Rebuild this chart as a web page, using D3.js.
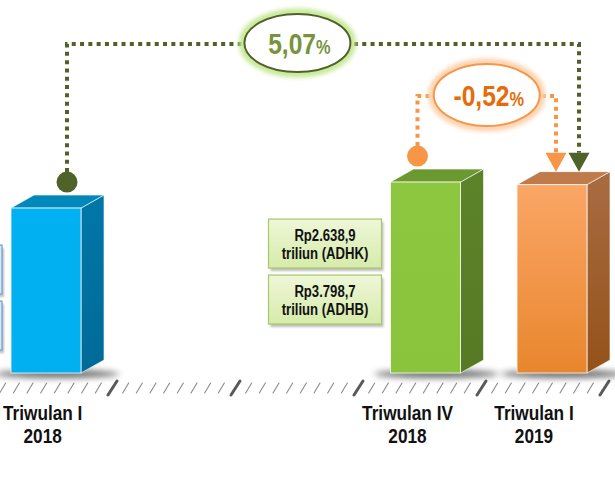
<!DOCTYPE html>
<html>
<head>
<meta charset="utf-8">
<script src="https://cdn.jsdelivr.net/npm/d3@7"></script>
<style>
  html, body { margin: 0; padding: 0; background: #ffffff; }
  svg { display: block; }
  .nar { font-family: "Liberation Sans", Arial, "DejaVu Sans", sans-serif; font-weight: bold; }
</style>
</head>
<body>
<svg id="chart" width="615" height="478"></svg>
<script>
// ---------------- data ----------------
const categories   = ["Triwulan I 2018", "Triwulan IV 2018", "Triwulan I 2019"];
const labelLine1   = ["Triwulan I", "Triwulan IV", "Triwulan I"];
const labelLine2   = ["2018", "2018", "2019"];
const quarterIndex = [0, 3, 4];                 // quarters since Triwulan I 2018
const valuesADHK   = [2498.7, 2638.9, 2625.0];  // triliun rupiah (bar heights)
const boxLine1     = [["Rp2.498,7", "Rp3.510,4"], ["Rp2.638,9", "Rp3.798,7"], null];
const boxLine2     = [["triliun (ADHK)", "triliun (ADHB)"], ["triliun (ADHK)", "triliun (ADHB)"], null];
const growthLabels = ["5,07", "-0,52"];
const growthFrom   = [0, 1];
const growthTo     = [2, 2];

// ---------------- setup ----------------
const svg = d3.select("#chart");
const defs = svg.append("defs");
const NARROW = 0.82; // horizontal squeeze to imitate a narrow bold face

const x = d3.scaleLinear().domain([0, 4]).range([11, 517]);       // front-left x of a bar
const y = d3.scaleLinear().domain([1609, 2650]).range([373, 180]); // bar top
const baseY = 373, barW = 70, dx = 23, dy = 13;

const palette = [
  { front: ["#00b0f0", "#00b0f0"], side: ["#0077a8", "#006a98"], top: "#0088ba", box: "#dce8f8", boxStroke: "#6a9ad8" },
  { front: ["#8dc63f", "#8ac43c"], side: ["#5d832a", "#567a24"], top: "#6b982f", box: "#e6f3c8", boxStroke: "#a8c866" },
  { front: ["#fba666", "#e8862d"], side: ["#a96c42", "#94521a"], top: "#c07b4b", box: "#fde4cc", boxStroke: "#f0a060" }
];

palette.forEach((p, i) => {
  const gf = defs.append("linearGradient").attr("id", "front" + i).attr("x1", 0).attr("y1", 0).attr("x2", 0).attr("y2", 1);
  gf.append("stop").attr("offset", "0%").attr("stop-color", p.front[0]);
  gf.append("stop").attr("offset", "100%").attr("stop-color", p.front[1]);
  const gs = defs.append("linearGradient").attr("id", "side" + i).attr("x1", 0).attr("y1", 0).attr("x2", 0).attr("y2", 1);
  gs.append("stop").attr("offset", "0%").attr("stop-color", p.side[0]);
  gs.append("stop").attr("offset", "100%").attr("stop-color", p.side[1]);
});
const gb = defs.append("linearGradient").attr("id", "boxGreen").attr("x1", 0).attr("y1", 0).attr("x2", 0).attr("y2", 1);
gb.append("stop").attr("offset", "0%").attr("stop-color", "#eef7d8");
gb.append("stop").attr("offset", "100%").attr("stop-color", "#d6ebaa");

defs.append("filter").attr("id", "blur3").attr("x", "-50%").attr("y", "-200%").attr("width", "200%").attr("height", "500%")
  .append("feGaussianBlur").attr("stdDeviation", 3);
defs.append("filter").attr("id", "blur2").attr("x", "-30%").attr("y", "-30%").attr("width", "160%").attr("height", "160%")
  .append("feGaussianBlur").attr("stdDeviation", 2);
defs.append("filter").attr("id", "blur1").attr("x", "-30%").attr("y", "-30%").attr("width", "160%").attr("height", "160%")
  .append("feGaussianBlur").attr("stdDeviation", 1.2);

// narrow text helper: text centred at (cx, by), squeezed horizontally
function narrowText(parent, cx, by, size, fill, str) {
  const g = parent.append("g").attr("transform", `translate(${cx},${by}) scale(${NARROW},1)`);
  const t = g.append("text").attr("class", "nar").attr("x", 0).attr("y", 0)
    .attr("text-anchor", "middle").attr("font-size", size).attr("fill", fill);
  if (str !== undefined) t.text(str);
  return t;
}

// ---------------- timeline ticks ----------------
const tickStep = 123 / 9;
const tickIdx = d3.range(-9, 37);
const tl = svg.append("g");
tickIdx.forEach(i => {
  const tx = 112 + i * tickStep;
  const big = i % 9 === 0;
  tl.append("line")
    .attr("x1", big ? tx - 4 : tx - 3).attr("y1", big ? 395 : 393)
    .attr("x2", big ? tx + 5 : tx + 3).attr("y2", big ? 381 : 383)
    .attr("stroke", big ? "#5a5a5a" : "#8a8a8a")
    .attr("stroke-width", big ? 3 : 1.1)
    .attr("stroke-linecap", "round");
});

// ---------------- value boxes ----------------
categories.forEach((c, i) => {
  if (!boxLine1[i]) return;
  const bx = x(quarterIndex[i]) - 9 - 113;
  const top = y(valuesADHK[i]) + 37;
  [0, 1].forEach(k => {
    const by = top + k * 56;
    const g = svg.append("g");
    g.append("rect").attr("x", bx + 2).attr("y", by + 3).attr("width", 113).attr("height", 49)
      .attr("fill", "#000").attr("opacity", 0.25).attr("filter", "url(#blur1)");
    g.append("rect").attr("x", bx).attr("y", by).attr("width", 113).attr("height", 49)
      .attr("fill", i === 1 ? "url(#boxGreen)" : palette[i].box)
      .attr("stroke", palette[i].boxStroke).attr("stroke-width", 1.2);
    if (bx + 113 > 20) {
      narrowText(g, bx + 56.5, by + 22, 16, "#111", boxLine1[i][k]);
      narrowText(g, bx + 56.5, by + 40, 16, "#111", boxLine2[i][k]);
    }
  });
});

// ---------------- bars ----------------
const bars = svg.append("g").selectAll("g").data(categories).join("g");
bars.each(function (c, i) {
  const g = d3.select(this);
  const x0 = x(quarterIndex[i]);
  const t = y(valuesADHK[i]);
  // ground shadow
  g.append("ellipse").attr("cx", x0 + 46).attr("cy", baseY + 1).attr("rx", 62).attr("ry", 4)
    .attr("fill", "#3a3a3a").attr("opacity", 0.75).attr("filter", "url(#blur3)");
  // side
  g.append("path")
    .attr("d", `M${x0 + barW},${t} L${x0 + barW + dx},${t - dy} L${x0 + barW + dx},${baseY - dy} L${x0 + barW},${baseY} Z`)
    .attr("fill", `url(#side${i})`).attr("stroke", "#ffffff").attr("stroke-opacity", 0.6).attr("stroke-width", 1);
  // top
  g.append("path")
    .attr("d", `M${x0},${t} L${x0 + dx},${t - dy} L${x0 + barW + dx},${t - dy} L${x0 + barW},${t} Z`)
    .attr("fill", palette[i].top).attr("stroke", "#ffffff").attr("stroke-opacity", 0.6).attr("stroke-width", 1);
  // front
  g.append("rect").attr("x", x0).attr("y", t).attr("width", barW).attr("height", baseY - t)
    .attr("fill", `url(#front${i})`).attr("stroke", "#ffffff").attr("stroke-opacity", 0.75).attr("stroke-width", 1);
});

// ---------------- category labels ----------------
categories.forEach((c, i) => {
  const g = svg.append("g");
  const t1 = narrowText(g, 0, 0, 21, "#111", labelLine1[i]);
  const half = t1.node().getComputedTextLength() * NARROW / 2;
  g.remove();
  const cx = Math.max(x(quarterIndex[i]) + 17, half + 3);
  narrowText(svg, cx, 420, 21, "#111", labelLine1[i]);
  narrowText(svg, cx, 443, 21, "#111", labelLine2[i]);
});

// ---------------- growth connectors ----------------
const conn = [
  { color: "#4f6228", glow: "#c6e894", text: "#77933c", startOff: 56, endOff: 62, lineY: 44, t: 0.45, rx: 53, ry: 29 },
  { color: "#f79646", glow: "#fcd2ae", text: "#e46c0a", startOff: 27, endOff: 39, lineY: 96, t: 0.5, rx: 53, ry: 31 }
];
growthLabels.forEach((lab, k) => {
  const s = conn[k];
  const fi = growthFrom[k], ti = growthTo[k];
  const xs = x(quarterIndex[fi]) + s.startOff;
  const xe = x(quarterIndex[ti]) + s.endOff;
  const dotY = y(valuesADHK[fi]) - 26;
  const tipY = y(valuesADHK[ti]) - 13;
  const cx = xs + s.t * (xe - xs);
  const g = svg.append("g");
  g.append("path")
    .attr("d", `M${xs},${dotY - 10} L${xs},${s.lineY} L${xe},${s.lineY} L${xe},${tipY - 19}`)
    .attr("fill", "none").attr("stroke", s.color).attr("stroke-width", 4)
    .attr("stroke-dasharray", "4,4.3");
  g.append("circle").attr("cx", xs).attr("cy", dotY).attr("r", 10.5).attr("fill", s.color);
  g.append("path").attr("d", `M${xe - 10.5},${tipY - 19} L${xe + 10.5},${tipY - 19} L${xe},${tipY} Z`).attr("fill", s.color);
  g.append("ellipse").attr("cx", cx).attr("cy", s.lineY - 1).attr("rx", s.rx + 2).attr("ry", s.ry + 2)
    .attr("fill", "none").attr("stroke", s.glow).attr("stroke-width", 7).attr("filter", "url(#blur2)");
  g.append("ellipse").attr("cx", cx).attr("cy", s.lineY - 1).attr("rx", s.rx).attr("ry", s.ry)
    .attr("fill", "#ffffff").attr("stroke", s.color).attr("stroke-width", 2);
  const tx = narrowText(g, cx + 2, s.lineY + 10, 30, s.text);
  tx.append("tspan").attr("font-size", 30).text(lab);
  tx.append("tspan").attr("font-size", 20).text("%");
});
</script>
</body>
</html>
